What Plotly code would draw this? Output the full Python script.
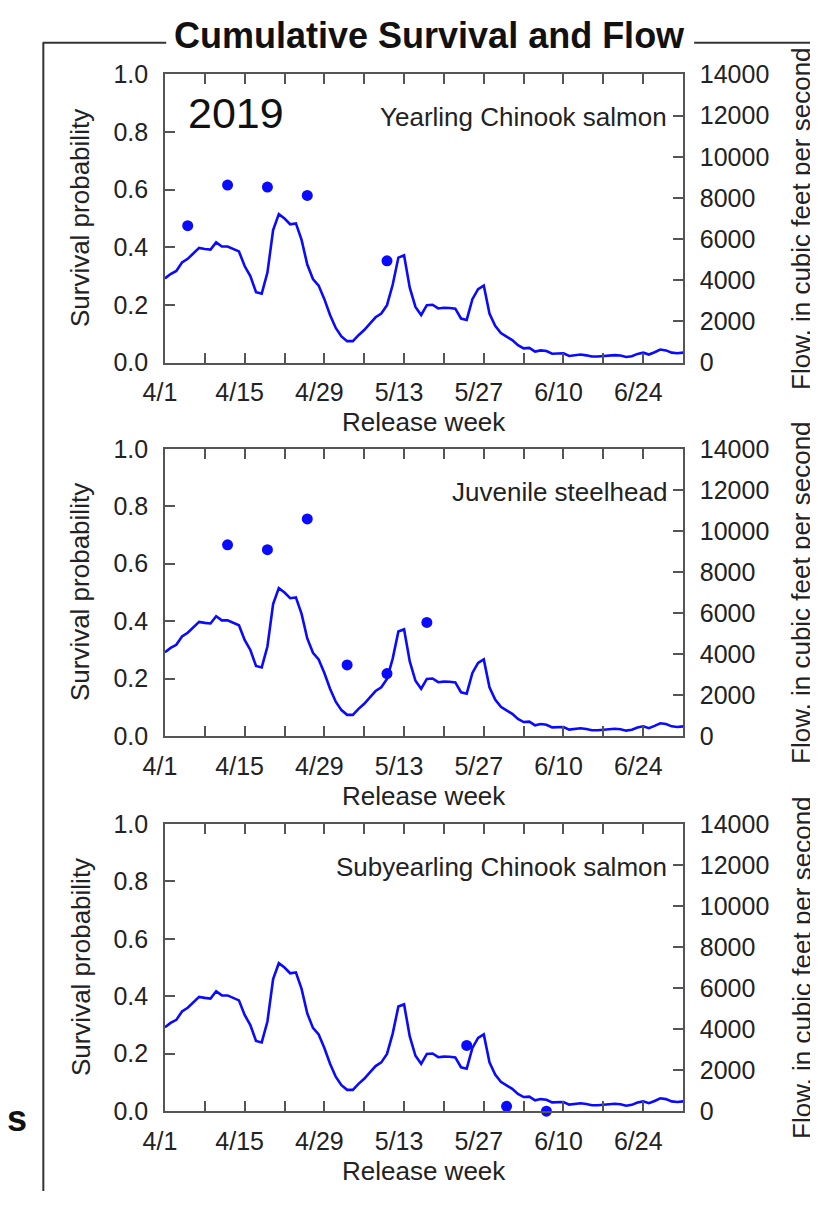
import plotly.graph_objects as go
import datetime as dt

# ---------------- data ----------------
start = dt.date(2019, 4, 1)
flow_day = list(range(0, 92))
flow_cfs = [4090, 4300, 4450, 4860, 5040, 5320, 5570, 5520, 5490, 5840,
            5640, 5640, 5520, 5400, 4690, 4200, 3420, 3350, 4370, 6440,
            7210, 7000, 6720, 6760, 5960, 4760, 4060, 3740, 3080, 2310,
            1680, 1270, 1040, 1040, 1330, 1580, 1890, 2200, 2380, 2790,
            3780, 5100, 5210, 3640, 2700, 2310, 2790, 2810, 2630, 2660,
            2650, 2620, 2140, 2070, 3080, 3570, 3740, 2380, 1790, 1430,
            1260, 1090, 840, 690, 710, 530, 590, 560, 430, 450,
            450, 320, 350, 390, 350, 290, 290, 320, 340, 360,
            340, 270, 310, 420, 480, 390, 500, 630, 590, 480,
            450, 480]
flow_dates = [(start + dt.timedelta(days=d)).isoformat() for d in flow_day]

yearling_dates = ["2019-04-05", "2019-04-12", "2019-04-19", "2019-04-26", "2019-05-10"]
yearling_surv = [0.475, 0.616, 0.609, 0.580, 0.353]

steelhead_dates = ["2019-04-12", "2019-04-19", "2019-04-26", "2019-05-03", "2019-05-10", "2019-05-17"]
steelhead_surv = [0.666, 0.649, 0.756, 0.248, 0.218, 0.396]

subyearling_dates = ["2019-05-24", "2019-05-31", "2019-06-07"]
subyearling_surv = [0.229, 0.017, 0.0]

panel_labels = ["Yearling Chinook salmon", "Juvenile steelhead", "Subyearling Chinook salmon"]
tick_dates = [(start + dt.timedelta(days=7 * i)).isoformat() for i in range(14)]
tick_text = ["4/1", "", "4/15", "", "4/29", "", "5/13", "", "5/27", "", "6/10", "", "6/24", ""]
surv_ticks = [0.0, 0.2, 0.4, 0.6, 0.8, 1.0]
flow_ticks = [0, 2000, 4000, 6000, 8000, 10000, 12000, 14000]

# ---------------- layout ----------------
# The page body has an 8 px default margin, so the figure is 8 px smaller
# than the window and every page position is shifted by OFF.
OFF = 8
W, H = 818 - OFF, 1205 - OFF
BLUE = "#0a0aff"
AX = "#555555"
TXT = "#222222"
FONT = "Liberation Sans, Arial, sans-serif"
FS = 25      # tick labels
FT = 26      # axis titles / panel labels

def px(x):
    return (x - OFF) / W

def py(y):
    return 1 - (y - OFF) / H

XL, XR = 146.7, 679.3
xdom = [px(XL), px(XR)]
panels_y = [(61.7, 356.7), (445, 739.3), (829, 1123.3)]
series = [(yearling_dates, yearling_surv), (steelhead_dates, steelhead_surv),
          (subyearling_dates, subyearling_surv)]

fig = go.Figure()
layout = dict(width=W, height=H, margin=dict(l=0, r=0, t=0, b=0),
              paper_bgcolor="white", plot_bgcolor="white", showlegend=False,
              font=dict(family=FONT, color=TXT))
annotations = []

for i, (top, bot) in enumerate(panels_y):
    n = i + 1
    xa = "x" if n == 1 else f"x{n}"
    ya = "y" if n == 1 else f"y{n}"
    yr_n = n + 3
    yr = f"y{yr_n}"
    ydom = [py(bot), py(top)]

    fig.add_trace(go.Scatter(x=flow_dates, y=flow_cfs, mode="lines",
                             line=dict(color=BLUE, width=2.6),
                             xaxis=xa, yaxis=yr, hoverinfo="skip"))
    d, s = series[i]
    fig.add_trace(go.Scatter(x=d, y=s, mode="markers",
                             marker=dict(color=BLUE, size=11),
                             xaxis=xa, yaxis=ya, cliponaxis=False))

    xkey = "xaxis" if n == 1 else f"xaxis{n}"
    ykey = "yaxis" if n == 1 else f"yaxis{n}"
    yrkey = f"yaxis{yr_n}"
    layout[xkey] = dict(domain=xdom, anchor=ya, type="date",
                        range=["2019-04-01", "2019-07-01"],
                        tickmode="array", tickvals=tick_dates, ticktext=tick_text,
                        ticks="inside", ticklen=10, tickwidth=1.5, tickcolor=AX,
                        showline=True, linecolor=AX, linewidth=1.5, mirror="ticks",
                        showgrid=False, zeroline=False, ticklabelstandoff=7,
                        ticklabelshift=-5,
                        tickfont=dict(size=FS, color=TXT))
    layout[ykey] = dict(domain=ydom, anchor=xa, range=[0, 1],
                        tickmode="array", tickvals=surv_ticks,
                        ticktext=[f"{v:.1f}" for v in surv_ticks],
                        ticks="inside", ticklen=10, tickwidth=1.5, tickcolor=AX,
                        showline=True, linecolor=AX, linewidth=1.5,
                        showgrid=False, zeroline=False, ticklabelstandoff=10,
                        tickfont=dict(size=FS, color=TXT))
    layout[yrkey] = dict(domain=ydom, anchor=xa, overlaying=ya, side="right",
                         range=[0, 14000], tickmode="array", tickvals=flow_ticks,
                         ticktext=[str(v) for v in flow_ticks],
                         ticks="inside", ticklen=10, tickwidth=1.5, tickcolor=AX,
                         showline=True, linecolor=AX, linewidth=1.5,
                         showgrid=False, zeroline=False, ticklabelstandoff=10,
                         tickfont=dict(size=FS, color=TXT))

    mid = (top + bot) / 2
    annotations.append(dict(xref="paper", yref="paper", x=px(665), y=py(top + 44),
                            xanchor="right", yanchor="middle", showarrow=False,
                            text=panel_labels[i], font=dict(size=FT, color=TXT)))
    annotations.append(dict(xref="paper", yref="paper", x=px(60), y=py(mid),
                            xanchor="center", yanchor="middle", showarrow=False,
                            textangle=-90, text="Survival probability",
                            font=dict(size=FT, color=TXT)))
    annotations.append(dict(xref="paper", yref="paper", x=px(801), y=py(mid),
                            xanchor="center", yanchor="middle", showarrow=False,
                            textangle=-90, text="Flow, in cubic feet per second",
                            font=dict(size=FT, color=TXT)))
    annotations.append(dict(xref="paper", yref="paper", x=px(413), y=py(bot + 61),
                            xanchor="center", yanchor="middle", showarrow=False,
                            text="Release week", font=dict(size=FT, color=TXT)))

annotations.append(dict(xref="paper", yref="paper", x=px(168), y=py(101),
                        xanchor="left", yanchor="middle", showarrow=False,
                        text="2019", font=dict(size=43, color="#111111")))
annotations.append(dict(xref="paper", yref="paper", x=px(418.5), y=py(22),
                        xanchor="center", yanchor="middle", showarrow=False,
                        text="<b>Cumulative Survival and Flow</b>",
                        font=dict(size=36, color="#111111")))
annotations.append(dict(xref="paper", yref="paper", x=px(7), y=py(1131),
                        xanchor="right", yanchor="middle", showarrow=False,
                        text="<b>s</b>", font=dict(size=36, color="#111111")))
layout["annotations"] = annotations

layout["shapes"] = [
    dict(type="line", xref="paper", yref="paper", x0=px(21), x1=px(148),
         y0=py(29.3), y1=py(29.3), line=dict(color="#333333", width=2)),
    dict(type="line", xref="paper", yref="paper", x0=px(690.7), x1=1,
         y0=py(29.3), y1=py(29.3), line=dict(color="#333333", width=2)),
    dict(type="line", xref="paper", yref="paper", x0=px(21.7), x1=px(21.7),
         y0=py(29.3), y1=0, line=dict(color="#333333", width=2)),
]

fig.update_layout(**layout)
fig.write_html("out.html")
